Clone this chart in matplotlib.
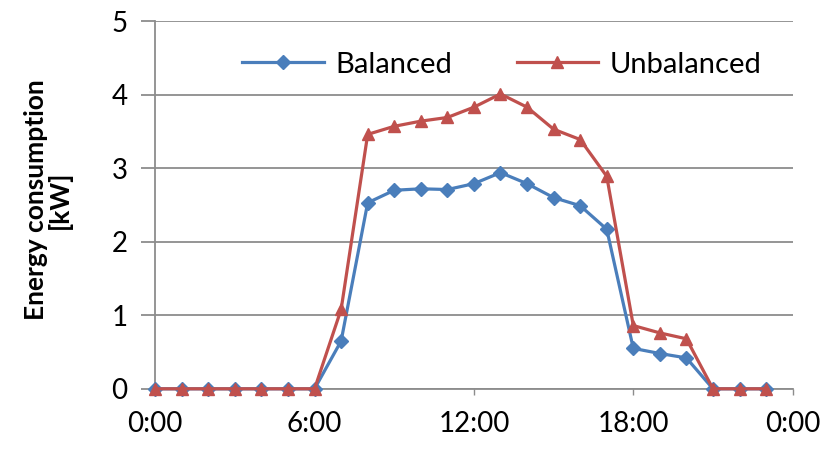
import numpy as np
import matplotlib.pyplot as plt

hours = list(range(24))
balanced = [0, 0, 0, 0, 0, 0, 0, 0.65, 2.53, 2.70, 2.72, 2.71, 2.79, 2.94,
            2.79, 2.60, 2.49, 2.17, 0.55, 0.48, 0.42, 0, 0, 0]
unbalanced = [0, 0, 0, 0, 0, 0, 0, 1.08, 3.46, 3.57, 3.64, 3.69, 3.83, 4.01,
              3.83, 3.53, 3.39, 2.89, 0.86, 0.76, 0.68, 0, 0, 0]
xticks = [0, 6, 12, 18, 24]
xticklabels = ['0:00', '6:00', '12:00', '18:00', '0:00']

plt.rcParams['font.family'] = ['Lato', 'DejaVu Sans']
grey = '#8c8c8c'

fig = plt.figure(figsize=(8.3, 4.5), dpi=100)
ax = fig.add_axes([0.187, 0.136, 0.768, 0.817])

ax.plot(hours, balanced, color='#4a7ebb', lw=2.3, marker='D', ms=7.5,
        label='Balanced', clip_on=False, zorder=3)
ax.plot(hours, unbalanced, color='#c0504d', lw=2.3, marker='^', ms=9,
        label='Unbalanced', clip_on=False, zorder=4)

ax.set_xlim(0, 24)
ax.set_ylim(0, 5)
ax.set_xticks(xticks)
ax.set_xticklabels(xticklabels, fontsize=20)
ax.set_yticks(range(6))
ax.set_yticklabels([str(i) for i in range(6)], fontsize=20)
ax.yaxis.grid(True, color=grey, lw=1.3)
ax.set_axisbelow(True)
ax.tick_params(axis='y', length=10, color=grey, width=1.3, pad=10)
ax.tick_params(axis='x', length=4, color=grey, width=1, pad=12)
for s in ['top', 'right']:
    ax.spines[s].set_visible(False)
ax.spines['left'].set_color(grey)
ax.spines['bottom'].set_color(grey)
ax.spines['left'].set_linewidth(1.3)
ax.spines['bottom'].set_linewidth(1.3)

ax.set_ylabel('Energy consumption\n[kW]', fontsize=19, fontweight='bold',
              linespacing=0.95)
ax.yaxis.set_label_coords(-0.131, 0.514)

ax.legend(loc='center', bbox_to_anchor=(0.544, 0.882), ncol=2,
          frameon=False, fontsize=21, handlelength=2.8, columnspacing=2.2,
          handletextpad=0.4)

fig.savefig('out.png', dpi=100)
